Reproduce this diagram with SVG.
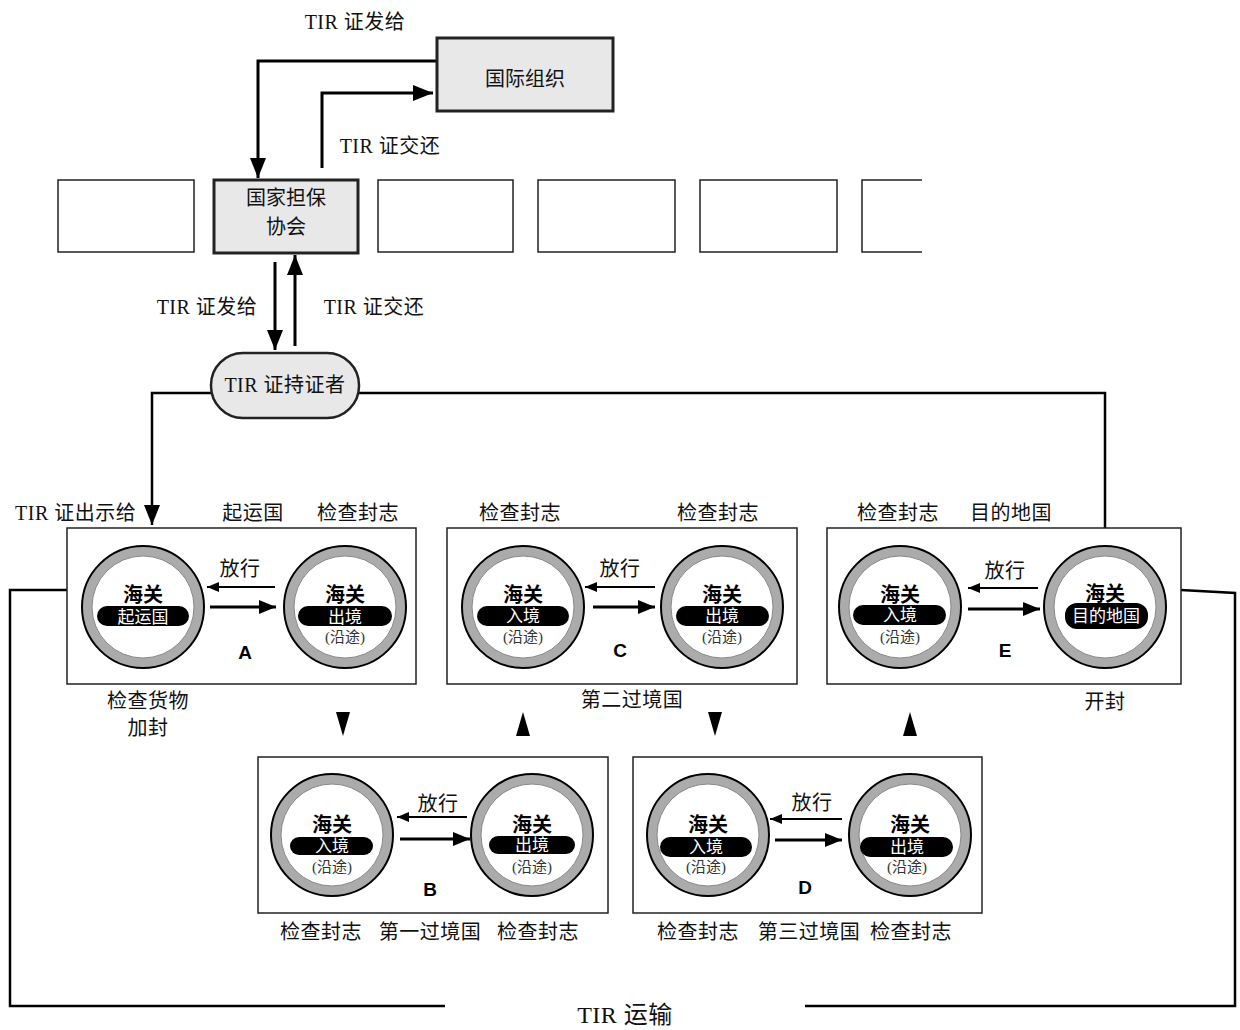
<svg xmlns="http://www.w3.org/2000/svg" xmlns:xlink="http://www.w3.org/1999/xlink" width="1240" height="1030" viewBox="0 0 1240 1030">
<style>
.lbl{font-family:"Liberation Serif","Noto Sans CJK SC",serif;font-size:20px;letter-spacing:0.5px;fill:#111;text-anchor:middle;dominant-baseline:central}
.sans{font-family:"Liberation Sans","Noto Sans CJK SC",sans-serif;font-size:20px;fill:#111;text-anchor:middle;dominant-baseline:central}
.hg{font-family:"Liberation Sans","Noto Sans CJK SC",sans-serif;font-size:20px;font-weight:bold;fill:#000;text-anchor:middle;dominant-baseline:central}
.pt{font-family:"Liberation Sans","Noto Sans CJK SC",sans-serif;font-size:17px;fill:#fff;text-anchor:middle;dominant-baseline:central}
.yt{font-family:"Liberation Serif","Noto Sans CJK SC",serif;font-size:15px;fill:#333;text-anchor:middle;dominant-baseline:central}
.let{font-family:"Liberation Sans",sans-serif;font-size:19px;font-weight:bold;fill:#000;text-anchor:middle;dominant-baseline:central}
.box{fill:#fff;stroke:#222;stroke-width:1.5}
.gbox{fill:#e8e8e8;stroke:#222;stroke-width:3}
.pill{fill:#000}
.ln{fill:none;stroke:#000;stroke-width:3}
.ln2{fill:none;stroke:#000;stroke-width:2.5}
.thin{fill:none;stroke:#000;stroke-width:2}
.thick{fill:none;stroke:#000;stroke-width:3}
.tri{fill:#000}
</style>
<defs>
<marker id="ah" markerUnits="userSpaceOnUse" markerWidth="20" markerHeight="16" refX="20" refY="8" orient="auto"><path d="M0,0 L20,8 L0,16 Z" fill="#000"/></marker>
<marker id="as" markerUnits="userSpaceOnUse" markerWidth="12" markerHeight="10" refX="12" refY="5" orient="auto"><path d="M0,0 L12,5 L0,10 Z" fill="#000"/></marker>
<marker id="am" markerUnits="userSpaceOnUse" markerWidth="17" markerHeight="14" refX="17" refY="7" orient="auto"><path d="M0,0 L17,7 L0,14 Z" fill="#000"/></marker>
<g id="ring">
<circle r="61" fill="#ababab" stroke="#000" stroke-width="2"/>
<circle r="51" fill="#fff" stroke="#888" stroke-width="1"/>
</g>
</defs>
<rect width="1240" height="1030" fill="#fff"/>

<g id="connectors">
<path class="ln" d="M437,61 H258 V178" marker-end="url(#ah)"/>
<path class="ln" d="M322,168 V93 H433" marker-end="url(#ah)"/>
<path class="ln" d="M275,262 V350" marker-end="url(#ah)"/>
<path class="ln" d="M295,346 V255" marker-end="url(#ah)"/>
<path class="ln2" d="M211,393 H152 V525" marker-end="url(#ah)"/>
<path class="ln2" d="M359,393 H1105 V528"/>
<path class="ln2" d="M67,590 H10 V1006 H445"/>
<path class="ln2" d="M1181,590 L1235,593 V1006 H805"/>
<polygon class="tri" points="336,712 350,712 343,736"/>
<polygon class="tri" points="516,736 530,736 523,712"/>
<polygon class="tri" points="708,712 722,712 715,736"/>
<polygon class="tri" points="903,736 917,736 910,712"/>
<text class="lbl" x="355" y="22">TIR 证发给</text>
<text class="lbl" x="390" y="146">TIR 证交还</text>
<text class="lbl" x="207" y="307">TIR 证发给</text>
<text class="lbl" x="374" y="307">TIR 证交还</text>
<text class="lbl" x="15" y="513" style="text-anchor:start">TIR 证出示给</text>
<text class="lbl" x="625" y="1015" style="font-size:24px">TIR 运输</text>
</g>

<g id="intl">
<rect class="gbox" x="437" y="38" width="176" height="73"/>
<text class="sans" x="525" y="79">国际组织</text>
</g>

<g id="assoc-row">
<rect class="box" x="58" y="180" width="136" height="72"/>
<rect class="box" x="378" y="180" width="135" height="72"/>
<rect class="box" x="538" y="180" width="137" height="72"/>
<rect class="box" x="700" y="180" width="137" height="72"/>
<path class="box" d="M922,180 H862 V252 H922" fill="none"/>
</g>

<g id="assoc">
<rect class="gbox" x="214" y="180" width="144" height="73"/>
<text class="sans" x="286" y="198">国家担保</text>
<text class="sans" x="286" y="227">协会</text>
</g>

<g id="holder">
<rect x="211" y="353" width="148" height="65" rx="32" ry="32" fill="#e8e8e8" stroke="#222" stroke-width="2.5"/>
<text class="lbl" x="285" y="385">TIR 证持证者</text>
</g>

<g id="stageA">
<rect class="box" x="67" y="528" width="349" height="156"/>
<use xlink:href="#ring" x="143" y="607"/>
<text class="hg" x="143" y="595">海关</text>
<rect class="pill" x="97" y="606" width="92" height="20" rx="10"/>
<text class="pt" x="143" y="617">起运国</text>
<use xlink:href="#ring" x="345" y="607"/>
<text class="hg" x="345" y="595">海关</text>
<rect class="pill" x="298" y="606" width="94" height="20" rx="10"/>
<text class="pt" x="345" y="617">出境</text>
<text class="yt" x="345" y="637">(沿途)</text>
<text class="lbl" x="240" y="569">放行</text>
<path class="thin" d="M275,587 H207" marker-end="url(#as)"/>
<path class="thick" d="M210,607 H276" marker-end="url(#am)"/>
<text class="let" x="245" y="652">A</text>
<text class="lbl" x="253" y="513">起运国</text>
<text class="lbl" x="358" y="513">检查封志</text>
<text class="lbl" x="148" y="701">检查货物</text>
<text class="lbl" x="148" y="728">加封</text>
</g>

<g id="stageC">
<rect class="box" x="447" y="528" width="350" height="156"/>
<use xlink:href="#ring" x="523" y="607"/>
<text class="hg" x="523" y="595">海关</text>
<rect class="pill" x="477" y="606" width="92" height="20" rx="10"/>
<text class="pt" x="523" y="616">入境</text>
<text class="yt" x="523" y="637">(沿途)</text>
<use xlink:href="#ring" x="722" y="607"/>
<text class="hg" x="722" y="595">海关</text>
<rect class="pill" x="676" y="606" width="93" height="20" rx="10"/>
<text class="pt" x="722" y="616">出境</text>
<text class="yt" x="722" y="637">(沿途)</text>
<text class="lbl" x="620" y="569">放行</text>
<path class="thin" d="M655,587 H585" marker-end="url(#as)"/>
<path class="thick" d="M593,607 H655" marker-end="url(#am)"/>
<text class="let" x="620" y="650">C</text>
<text class="lbl" x="520" y="513">检查封志</text>
<text class="lbl" x="718" y="513">检查封志</text>
<text class="lbl" x="632" y="700">第二过境国</text>
</g>

<g id="stageE">
<rect class="box" x="827" y="528" width="354" height="156"/>
<use xlink:href="#ring" x="900" y="607"/>
<text class="hg" x="900" y="595">海关</text>
<rect class="pill" x="853" y="605" width="93" height="20" rx="10"/>
<text class="pt" x="900" y="615">入境</text>
<text class="yt" x="900" y="637">(沿途)</text>
<use xlink:href="#ring" x="1105" y="607"/>
<text class="hg" x="1105" y="594">海关</text>
<rect class="pill" x="1065" y="603" width="83" height="26" rx="12"/>
<text class="pt" x="1106" y="616">目的地国</text>
<text class="lbl" x="1005" y="571">放行</text>
<path class="thin" d="M1038,588 H968" marker-end="url(#as)"/>
<path class="thick" d="M968,609 H1040" marker-end="url(#am)"/>
<text class="let" x="1005" y="650">E</text>
<text class="lbl" x="898" y="513">检查封志</text>
<text class="lbl" x="1011" y="513">目的地国</text>
<text class="lbl" x="1105" y="702">开封</text>
</g>

<g id="stageB">
<rect class="box" x="258" y="757" width="350" height="156"/>
<use xlink:href="#ring" x="332" y="835"/>
<text class="hg" x="332" y="825">海关</text>
<rect class="pill" x="290" y="837" width="83" height="18" rx="9"/>
<text class="pt" x="332" y="846">入境</text>
<text class="yt" x="332" y="867">(沿途)</text>
<use xlink:href="#ring" x="532" y="835"/>
<text class="hg" x="532" y="825">海关</text>
<rect class="pill" x="489" y="836" width="86" height="18" rx="9"/>
<text class="pt" x="532" y="845">出境</text>
<text class="yt" x="532" y="867">(沿途)</text>
<text class="lbl" x="438" y="804">放行</text>
<path class="thin" d="M467,817 H397" marker-end="url(#as)"/>
<path class="thick" d="M400,839 H470" marker-end="url(#am)"/>
<text class="let" x="430" y="889">B</text>
<text class="lbl" x="321" y="932">检查封志</text>
<text class="lbl" x="430" y="932">第一过境国</text>
<text class="lbl" x="538" y="932">检查封志</text>
</g>

<g id="stageD">
<rect class="box" x="633" y="757" width="349" height="156"/>
<use xlink:href="#ring" x="708" y="835"/>
<text class="hg" x="708" y="825">海关</text>
<rect class="pill" x="660" y="837" width="92" height="20" rx="10"/>
<text class="pt" x="706" y="847">入境</text>
<text class="yt" x="706" y="867">(沿途)</text>
<use xlink:href="#ring" x="910" y="835"/>
<text class="hg" x="910" y="825">海关</text>
<rect class="pill" x="860" y="837" width="93" height="20" rx="10"/>
<text class="pt" x="907" y="847">出境</text>
<text class="yt" x="907" y="867">(沿途)</text>
<text class="lbl" x="812" y="803">放行</text>
<path class="thin" d="M842,819 H770" marker-end="url(#as)"/>
<path class="thick" d="M775,840 H842" marker-end="url(#am)"/>
<text class="let" x="805" y="887">D</text>
<text class="lbl" x="698" y="932">检查封志</text>
<text class="lbl" x="809" y="932">第三过境国</text>
<text class="lbl" x="911" y="932">检查封志</text>
</g>
</svg>
